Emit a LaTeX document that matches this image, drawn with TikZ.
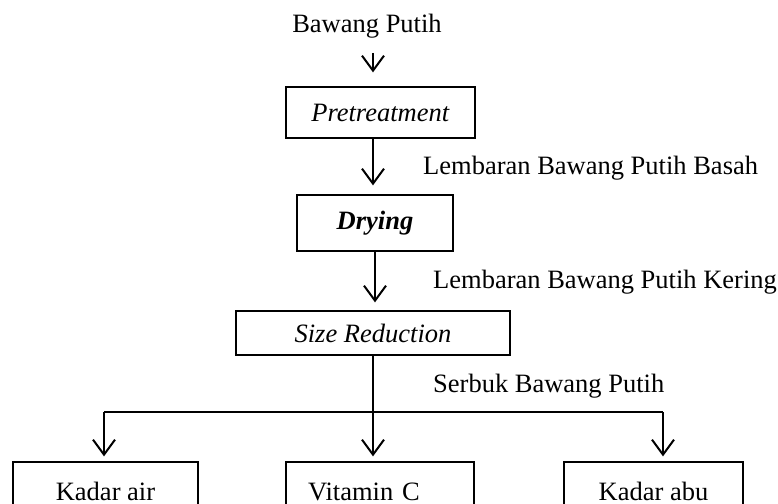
\documentclass[tikz,border=0pt]{standalone}
\usepackage{fontspec}
\setmainfont{Liberation Serif}
\usetikzlibrary{arrows.meta}

\begin{document}
\begin{tikzpicture}[x=1pt, y=-1pt,
    font=\fontsize{26.5}{30}\selectfont,
    box/.style={draw, line width=1.3pt, inner sep=0pt, align=center},
    endbox/.style={box, minimum height=43pt, text height=33pt, text depth=0pt},
    lbl/.style={inner sep=0pt, anchor=base west},
    arr/.style={line width=2pt, -{Straight Barb[length=15pt, width=22pt]}},
    wire/.style={line width=2pt}]
    % --- Parameters ---
    \def\W{778}     % picture width
    \def\H{503}     % picture height
    \def\row{483.5} % centre of the bottom row (boxes run past the lower edge)

    \clip (0,0) rectangle (\W,\H);

    % --- Main column ---
    \coordinate (axis) at (373,0);
    \node[inner sep=0pt, anchor=base] (bawang) at (367,33) {Bawang Putih};
    \node[box, minimum width=189pt, minimum height=51pt] (pretreat) at (380.5,112.5) {\textit{Pretreatment}};
    \node[box, minimum width=156pt, minimum height=56pt] (drying) at (375,223) {\textbf{\textit{Drying}}};
    \node[box, minimum width=274pt, minimum height=44pt] (sizered) at (373,333) {\textit{Size Reduction}};

    % --- Labels beside the arrows ---
    \node[lbl] (basah) at (423,174) {Lembaran Bawang Putih Basah};
    \node[lbl] (kering) at (433,288) {Lembaran Bawang Putih Kering};
    \node[lbl] (serbuk) at (433,392) {Serbuk Bawang Putih};

    % --- Bottom row ---
    \node[endbox, minimum width=185pt] (kadarair) at (105.5,\row) {Kadar air};
    \node[endbox, text width=144pt, inner xsep=22pt, align=left] (vitc) at (380,\row) {Vitamin C};
    \node[endbox, minimum width=179pt] (kadarabu) at (653.5,\row) {Kadar abu};

    % --- Arrows ---
    \draw[arr] ([yshift=-20pt]bawang.base -| axis) -- ([yshift=14pt]pretreat.north -| axis);
    \draw[arr] (pretreat.south -| axis) -- ([yshift=9pt]drying.north -| axis);
    \draw[arr] (drying.south) -- ([yshift=8pt]sizered.north -| drying);

    % --- Branching to the three analyses ---
    \coordinate (split) at (373,412);
    \coordinate (bl) at (104,412);
    \coordinate (br) at (663,412);
    \draw[wire] (bl) -- (br);
    \draw[arr] (sizered.south -| split) -- ([yshift=5pt]vitc.north -| split);
    \draw[arr] (bl) -- ([yshift=5pt]kadarair.north -| bl);
    \draw[arr] (br) -- ([yshift=5pt]kadarabu.north -| br);
\end{tikzpicture}
\end{document}
